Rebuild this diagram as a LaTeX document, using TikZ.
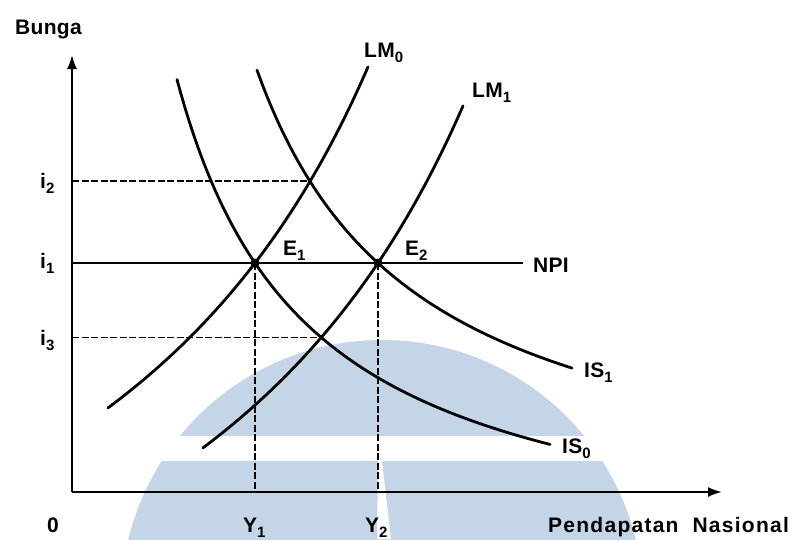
\documentclass[tikz,border=0pt]{standalone}
\usepackage{fontspec}
\setmainfont{Liberation Sans}[LetterSpace=1.5]
\usetikzlibrary{arrows.meta}
\definecolor{wm}{RGB}{197,213,232}
\newcommand\sbs[1]{\raisebox{-5pt}{\fontsize{15}{15}\selectfont #1}}
\begin{document}
\begin{tikzpicture}[x=1pt,y=-1pt,
  curve/.style={line width=2.8pt, line cap=round},
  axisline/.style={line width=2.1pt},
  dsh/.style={line width=1.9pt, dash pattern=on 7pt off 2.5pt},
  lbl/.style={inner sep=0pt, anchor=base west, font=\fontsize{21}{24}\selectfont\bfseries},
  tip/.style={-{Latex[length=14pt,width=10pt]}}]
\useasboundingbox (0,0) rectangle (795,539);
% watermark
\begin{scope}
  \clip (0,0) rectangle (795,539);
  \fill[wm] (382,601) circle[radius=261pt];
  \fill[white] (0,436) rectangle (795,461);
  \fill[white] (378,461) -- (382,461) -- (391,539) -- (377,539) -- cycle;
\end{scope}
% coordinates
\coordinate (O) at (72,492);
\coordinate (ytip) at (72,55);
\coordinate (xtip) at (722,492);
\coordinate (E1) at (255,263);
\coordinate (E2) at (378,263);
\coordinate (A2) at (310,181.4);
\coordinate (A3) at (321.2,337.5);
\coordinate (i2ax) at (72,181.4);
\coordinate (i1ax) at (72,263);
\coordinate (i3ax) at (72,337.5);
\coordinate (Y1ax) at (255,492);
\coordinate (Y2ax) at (378,492);
\coordinate (npiend) at (523,263);
% dashed guides
\draw[dsh] (i2ax) -- (A2);
\draw[dsh] (i3ax) -- (A3);
\draw[dsh] (E1) -- (Y1ax);
\draw[dsh] (E2) -- (Y2ax);
% axes
\draw[axisline,tip] (O) -- (ytip);
\draw[axisline,tip] (O) -- (xtip);
% NPI
\draw[axisline] (i1ax) -- (npiend);
% curves
% LM0
\draw[curve] plot[domain=108:368, samples=80] (\x, {856.4-2700/((710-\x)/100)});
% LM1
\draw[curve] plot[domain=203:463, samples=80] (\x, {904.2-2770/((810-\x)/100)});
% IS0
\draw[curve] plot[domain=177:550, samples=100] (\x, {573.5-652/((\x-45)/100)});
% IS1
\draw[curve] plot[domain=257:572, samples=100] (\x, {521.3-730.9/((\x-95)/100)});
% equilibrium points
\fill (E1) circle[radius=4.5pt];
\fill (E2) circle[radius=4.5pt];
% labels
\node[lbl] (bunga) at (15,34) {Bunga};
\node[lbl] (lm0) at (364,57) {LM\sbs{0}};
\node[lbl] (lm1) at (472,97) {LM\sbs{1}};
\node[lbl] (i2) at (40,188) {i\sbs{2}};
\node[lbl] (i1) at (40,268) {i\sbs{1}};
\node[lbl] (i3) at (40,345) {i\sbs{3}};
\node[lbl] (e1) at (283,255) {E\sbs{1}};
\node[lbl] (e2) at (405,255) {E\sbs{2}};
\node[lbl] (npi) at (533,272) {NPI};
\node[lbl] (is1) at (584,377) {IS\sbs{1}};
\node[lbl] (is0) at (562,453) {IS\sbs{0}};
\node[lbl] (zero) at (47,532) {0};
\node[lbl] (y1) at (243,532) {Y\sbs{1}};
\node[lbl] (y2) at (365,532) {Y\sbs{2}};
\node[lbl] (pn) at (548,532) {\addfontfeatures{LetterSpace=6}Pendapatan\hspace{14pt}Nasional};
\end{tikzpicture}
\end{document}
